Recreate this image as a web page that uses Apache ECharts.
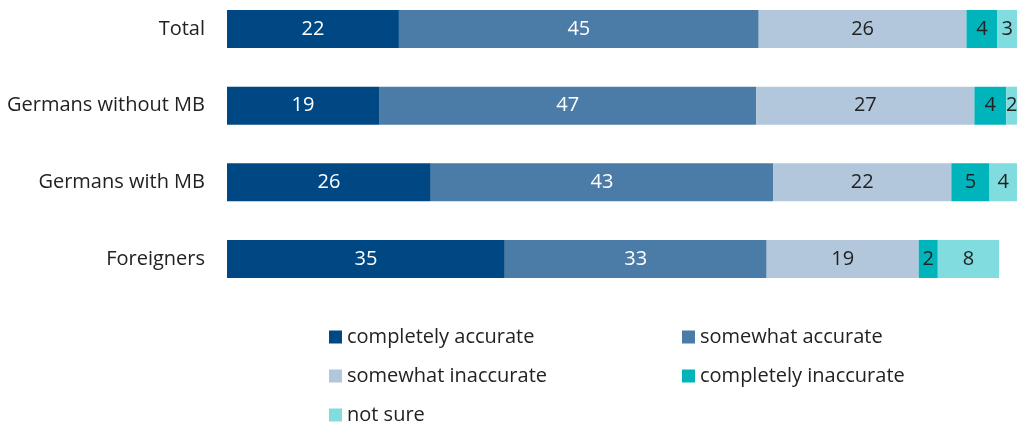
<!DOCTYPE html>
<html>
<head>
<meta charset="utf-8">
<script src="https://cdn.jsdelivr.net/npm/echarts@6/dist/echarts.min.js"></script>
<style>
  html, body { margin: 0; padding: 0; background: #fff; }
  #chart { width: 1017px; height: 428px; }
</style>
</head>
<body>
<div id="chart"></div>
<script>
// groups, top to bottom
var groups = ['Total', 'Germans without MB', 'Germans with MB', 'Foreigners'];
// answers in percent, same order as groups
var completelyAccurate   = [21.6, 19.1, 25.6, 34.9];
var somewhatAccurate     = [45.2, 47.4, 43.0, 32.9];
var somewhatInaccurate   = [26.1, 27.4, 22.4, 19.1];
var completelyInaccurate = [3.9, 4.0, 4.8, 2.4];
var notSure              = [3.2, 1.9, 4.1, 7.7];

var font = '"Open Sans", "Noto Sans", sans-serif';

function mkSeries(name, data, color, labelColor) {
  return {
    name: name,
    type: 'bar',
    stack: 'all',
    data: data,
    barWidth: 38,
    itemStyle: { color: color },
    label: {
      show: true,
      position: 'inside',
      color: labelColor,
      fontFamily: font,
      fontSize: 20,
      formatter: function (p) { return Math.round(p.value); }
    }
  };
}

var chart = echarts.init(document.getElementById('chart'));
var option = {
  animation: false,
  // the picture is cut at the right edge, so the axis runs a bit short of 100
  grid: { left: 227, top: 29, right: 0, height: 230 },
  xAxis: {
    type: 'value',
    min: 0,
    max: 99.25,
    show: false
  },
  yAxis: {
    type: 'category',
    data: groups,
    inverse: true,
    boundaryGap: false,
    axisLine: { show: false },
    axisTick: { show: false },
    splitLine: { show: false },
    axisLabel: { margin: 22, color: '#222', fontFamily: font, fontSize: 20 }
  },
  legend: {
    left: 324,
    top: 322,
    width: 700,
    itemWidth: 13,
    itemHeight: 13,
    itemGap: 19,
    icon: 'rect',
    textStyle: { width: 316, lineHeight: 20, color: '#222', fontFamily: font, fontSize: 20 },
    data: ['completely accurate', 'somewhat accurate', 'somewhat inaccurate', 'completely inaccurate', 'not sure']
  },
  series: [
    mkSeries('completely accurate', completelyAccurate, '#004884', '#fff'),
    mkSeries('somewhat accurate', somewhatAccurate, '#4b7ca8', '#fff'),
    mkSeries('somewhat inaccurate', somewhatInaccurate, '#b3c7dc', '#222'),
    mkSeries('completely inaccurate', completelyInaccurate, '#00b4bc', '#222'),
    mkSeries('not sure', notSure, '#80dcdf', '#222')
  ]
};
chart.setOption(option);
</script>
</body>
</html>
